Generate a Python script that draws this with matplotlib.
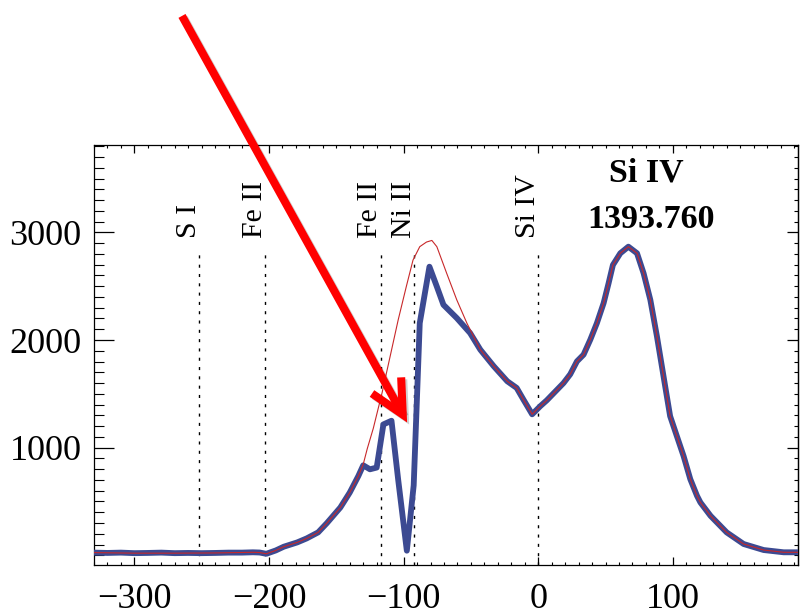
import matplotlib
matplotlib.use("Agg")
import matplotlib.pyplot as plt
import matplotlib.patheffects as pe
from matplotlib.ticker import MultipleLocator

plt.rcParams['font.family'] = ['Liberation Serif', 'DejaVu Serif']

# observed Si IV 1393.760 profile (velocity in km/s, counts)
v_obs = [-330, -320, -310, -300, -290, -280, -270, -260, -250, -240, -230, -220,
         -212, -207, -202, -195, -189, -179, -172, -163.5, -157, -147, -140,
         -133.6, -130, -125, -120, -115, -109, -104, -97.6, -92.5, -88, -80.8,
         -75.3, -70.4, -60.5, -50.6, -43, -33, -23, -16, -11, -4.5, 1.5, 6.4,
         12.6, 18.8, 23.8, 28.8, 33.7, 38.7, 43.6, 48.6, 52.3, 55.5, 61, 67,
         73.4, 78.3, 83.3, 88.2, 93.1, 98, 103, 108, 113, 118, 120.5, 128, 140,
         152.6, 167.5, 182.4, 193]
i_obs = [25, 22, 25, 20, 22, 25, 20, 22, 20, 22, 25, 25,
         28, 26, 14, 45, 80, 120, 157, 213, 299, 444, 583,
         737, 836, 799, 815, 1216, 1250, 700, 43, 650, 2157, 2681,
         2496, 2327, 2204, 2065, 1910, 1756, 1617, 1555, 1447, 1310, 1385, 1440,
         1520, 1600, 1682, 1802, 1864, 2003, 2157, 2343, 2528, 2697, 2806, 2867,
         2806, 2620, 2373, 2034, 1663, 1293, 1107, 922, 707, 552, 491, 367, 213,
         105, 49, 28, 28]

# fitted profile without the absorption
v_fit = [-330, -300, -270, -240, -212, -207, -202, -195, -189, -179, -172,
         -163.5, -157, -147, -140, -133.6, -130, -127, -122.5, -116, -110, -104,
         -98, -93, -88, -83, -79, -75.3, -68, -60.5, -53, -48, -43, -33, -23,
         -16, -11, -4.5, 1.5, 6.4, 12.6, 18.8, 23.8, 28.8, 33.7, 38.7, 43.6,
         48.6, 52.3, 55.5, 61, 67, 73.4, 78.3, 83.3, 88.2, 93.1, 98, 103, 108,
         113, 118, 120.5, 128, 140, 152.6, 167.5, 182.4, 193]
i_fit = [25, 20, 20, 22, 28, 26, 14, 45, 80, 120, 157,
         213, 299, 444, 583, 737, 845, 990, 1180, 1509, 1848, 2188,
         2496, 2743, 2867, 2910, 2925, 2867, 2620, 2373, 2157, 2033, 1910, 1756, 1617,
         1555, 1447, 1310, 1385, 1440, 1520, 1600, 1682, 1802, 1864, 2003, 2157,
         2343, 2528, 2697, 2806, 2867, 2806, 2620, 2373, 2034, 1663, 1293, 1107, 922,
         707, 552, 491, 367, 213, 105, 49, 28, 28]

# line positions (km/s relative to Si IV 1393.760)
line_names = ['S I', 'Fe II', 'Fe II', 'Ni II', 'Si IV']
line_vel = [-252, -203, -117, -92, 0]

fig = plt.figure(figsize=(8, 6.12), dpi=100)
ax = fig.add_axes([0.1175, 0.0768, 0.88, 0.686])

ax.plot(v_obs, i_obs, color='#3c4a92', lw=4.2, solid_joinstyle='round', zorder=3)
ax.plot(v_fit, i_fit, color='#c8282a', lw=0.8, zorder=4)

for name, v in zip(line_names, line_vel):
    ax.plot([v, v], [-90, 2820], color='black', lw=1.0, linestyle=(0, (2.2, 4.5)), zorder=2)
    ax.text(v + 2, 2950, name, rotation=90, ha='right', va='bottom', fontsize=21.5)

ax.text(80, 3550, 'Si IV', ha='center', va='center', fontsize=24.5, fontweight='bold')
ax.text(84, 3115, '1393.760', ha='center', va='center', fontsize=24.5, fontweight='bold')

ax.set_xlim(-330, 193)
ax.set_ylim(-90, 3810)
ax.set_xticks([-300, -200, -100, 0, 100])
ax.set_yticks([1000, 2000, 3000])
ax.xaxis.set_minor_locator(MultipleLocator(10))
ax.yaxis.set_minor_locator(MultipleLocator(100))

ax.tick_params(axis='x', which='both', direction='in', top=True, labelsize=26, pad=13)
ax.tick_params(axis='x', which='major', length=5.5, width=0.9)
ax.tick_params(axis='x', which='minor', length=2.5, width=0.8)
ax.tick_params(axis='y', which='both', direction='in', right=False, labelsize=26, pad=9)
ax.tick_params(axis='y', which='major', length=14.5, width=0.9)
ax.tick_params(axis='y', which='minor', length=7.5, width=0.8)

# right axis carries shorter ticks
ay = ax.secondary_yaxis('right')
ay.set_yticks([1000, 2000, 3000])
ay.yaxis.set_minor_locator(MultipleLocator(100))
ay.tick_params(axis='y', which='both', direction='in', labelright=False)
ay.tick_params(axis='y', which='major', length=8, width=0.9)
ay.tick_params(axis='y', which='minor', length=3, width=0.8)

for s in ax.spines.values():
    s.set_linewidth(0.9)
ay.spines['right'].set_linewidth(0.9)

# red arrow pointing at the Ni II absorption dip
ax.annotate('', xy=(-97.4, 1234), xycoords='data',
            xytext=(0.2275, 0.974), textcoords='figure fraction',
            arrowprops=dict(arrowstyle='->,head_length=1.2,head_width=0.6',
                            color='#ff0000', lw=5.8, mutation_scale=20,
                            shrinkA=0, shrinkB=0, capstyle='butt',
                            joinstyle='miter',
                            path_effects=[pe.SimpleLineShadow(offset=(1.5, -1.5), alpha=0.18),
                                          pe.Normal()]),
            annotation_clip=False, zorder=6)

fig.savefig('out.png', dpi=100)
